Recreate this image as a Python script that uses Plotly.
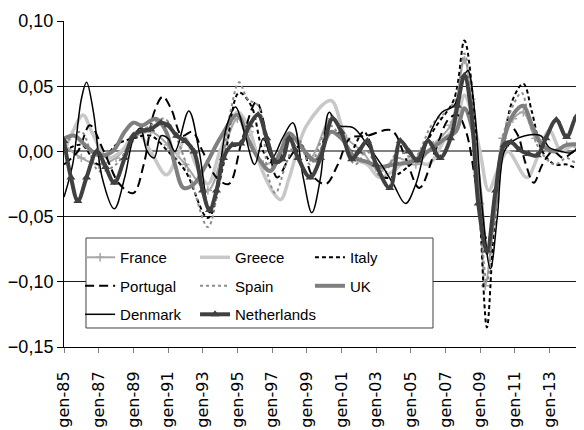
import plotly.graph_objects as go

# ---------------- data (decimal years) ----------------
france_x = [1985.0, 1986.0, 1987.0, 1988.0, 1989.0, 1990.0, 1991.0, 1992.0, 1993.3, 1994.2, 1995.0, 1995.7,
            1996.5, 1997.3, 1998.2, 1999.2, 2000.4, 2001.3, 2002.2, 2003.2, 2004.2, 2005.3, 2006.3, 2007.3,
            2008.1, 2008.5, 2009.0, 2009.3, 2009.8, 2010.3, 2010.9, 2011.5, 2012.2, 2013.0, 2014.0, 2015.0]
france_y = [0.005, -0.005, -0.01, -0.005, 0.01, 0.015, 0.005, -0.01, -0.03, 0.0, 0.025, 0.015,
            -0.01, -0.005, 0.01, -0.005, 0.025, 0.01, 0.0, -0.015, -0.005, -0.01, 0.005, 0.02,
            0.07, 0.04, -0.04, -0.103, -0.05, 0.01, 0.025, 0.03, 0.01, 0.0, 0.005, 0.0]

greece_x = [1985.0, 1985.5, 1986.1, 1986.6, 1987.5, 1988.3, 1989.2, 1990.0, 1990.9, 1991.5, 1992.0, 1992.6,
            1993.3, 1994.0, 1995.0, 1995.6, 1996.3, 1997.0, 1997.5, 1998.0, 1999.0, 2000.4, 2001.0, 2001.6,
            2002.5, 2003.2, 2004.0, 2005.0, 2006.0, 2007.0, 2007.6, 2008.1, 2008.5, 2009.0, 2009.5, 2010.0,
            2010.6, 2011.7, 2012.3, 2013.0, 2013.7, 2014.4, 2015.0]
greece_y = [0.0, 0.015, 0.028, 0.015, -0.005, 0.0, 0.015, 0.0, -0.018, -0.005, 0.01, -0.01,
            -0.025, 0.0, 0.03, 0.02, -0.01, -0.03, -0.037, -0.02, 0.02, 0.039, 0.02, -0.005,
            -0.01, -0.02, -0.015, -0.005, -0.01, 0.01, 0.02, 0.043, 0.03, 0.0, -0.03, -0.015,
            0.0, -0.02, -0.005, 0.016, 0.0, 0.005, 0.0]

italy_x = [1985.0, 1986.0, 1987.0, 1988.0, 1989.0, 1990.0, 1991.0, 1992.0, 1993.3, 1994.2, 1995.1, 1995.8,
           1996.5, 1997.2, 1998.0, 1999.2, 2000.5, 2001.5, 2002.3, 2003.5, 2005.0, 2006.5, 2007.5, 2008.1,
           2008.6, 2009.0, 2009.4, 2009.8, 2010.3, 2010.9, 2011.5, 2012.0, 2012.6, 2013.3, 2014.0, 2014.5, 2015.0]
italy_y = [0.0, 0.005, -0.01, 0.005, 0.01, 0.012, 0.0, -0.015, -0.051, -0.01, 0.045, 0.035,
           0.0, -0.01, 0.01, -0.02, 0.025, 0.0, 0.015, -0.02, -0.01, 0.02, 0.04, 0.085,
           0.04, -0.05, -0.135, -0.06, 0.0, 0.04, 0.052, 0.03, 0.0, -0.01, -0.01, -0.012, -0.005]

portugal_x = [1985.0, 1985.8, 1986.5, 1987.3, 1988.2, 1989.0, 1989.6, 1990.2, 1990.7, 1991.2, 1991.8, 1992.4,
              1993.0, 1993.8, 1994.5, 1995.3, 1996.1, 1996.7, 1997.3, 1998.0, 1998.7, 1999.3, 2000.1, 2000.8,
              2001.5, 2002.5, 2003.9, 2004.7, 2005.5, 2006.4, 2007.2, 2007.7, 2008.2, 2008.7, 2009.1, 2009.5,
              2009.9, 2010.3, 2010.7, 2011.2, 2011.6, 2012.1, 2012.6, 2013.2, 2013.8, 2014.4, 2015.0]
portugal_y = [-0.01, 0.0, 0.02, 0.0, -0.025, -0.032, -0.01, 0.03, 0.042, 0.032, 0.012, 0.015,
              0.0, -0.02, -0.025, 0.01, 0.038, 0.012, -0.02, -0.005, 0.005, -0.018, -0.025, -0.01,
              0.01, 0.012, 0.016, -0.005, -0.028, 0.0, 0.025, 0.028, 0.015, -0.02, -0.055, -0.07,
              -0.04, 0.0, 0.02, 0.012, -0.008, -0.024, -0.01, 0.0, -0.005, 0.0, 0.005]

spain_x = [1985.0, 1986.0, 1987.0, 1988.0, 1989.0, 1990.0, 1990.8, 1991.5, 1992.3, 1993.3, 1994.0, 1994.6,
           1995.1, 1995.6, 1996.2, 1996.8, 1997.2, 1997.8, 1998.5, 1999.2, 2000.3, 2001.0, 2001.8, 2002.5,
           2003.3, 2004.3, 2005.2, 2006.2, 2007.0, 2007.6, 2008.1, 2008.5, 2008.9, 2009.4, 2009.8, 2010.3,
           2010.9, 2011.4, 2011.9, 2012.5, 2013.3, 2014.0, 2014.5, 2015.0]
spain_y = [0.005, 0.015, -0.015, -0.01, 0.01, 0.02, 0.025, 0.01, -0.02, -0.058, -0.02, 0.03,
           0.053, 0.04, 0.035, -0.02, -0.032, -0.01, 0.01, -0.01, 0.02, 0.01, -0.01, 0.0,
           -0.02, 0.0, -0.005, 0.02, 0.03, 0.04, 0.075, 0.04, -0.03, -0.1, -0.05, 0.01,
           0.035, 0.045, 0.02, 0.0, -0.01, -0.005, -0.008, 0.0]

uk_x = [1985.0, 1985.6, 1986.2, 1987.0, 1987.8, 1988.5, 1989.0, 1989.5, 1990.3, 1990.9, 1991.4, 1991.9,
        1992.5, 1993.2, 1994.0, 1995.0, 1995.6, 1996.2, 1996.9, 1997.5, 1998.0, 1998.6, 1999.5, 2000.4,
        2001.0, 2001.8, 2002.5, 2003.2, 2004.0, 2005.0, 2006.0, 2007.0, 2007.6, 2008.1, 2008.5, 2009.0,
        2009.4, 2009.9, 2010.4, 2011.0, 2011.5, 2012.0, 2012.6, 2013.3, 2014.0, 2015.0]
uk_y = [0.01, 0.012, 0.005, -0.003, 0.0, 0.015, 0.022, 0.02, 0.025, 0.015, -0.01, -0.028,
        -0.025, -0.01, 0.01, 0.028, 0.01, -0.005, -0.015, 0.0, 0.014, 0.005, -0.007, 0.015,
        0.01, -0.005, -0.008, -0.012, -0.01, -0.008, 0.0, 0.01, 0.015, 0.033, 0.02, -0.03,
        -0.078, -0.04, 0.01, 0.03, 0.035, 0.02, 0.005, 0.0, 0.005, 0.005]

denmark_x = [1985.0, 1985.5, 1986.0, 1986.3, 1986.7, 1987.2, 1987.9, 1988.5, 1989.0, 1989.4, 1989.8, 1990.2,
             1990.6, 1991.0, 1991.4, 1992.2, 1992.8, 1993.4, 1993.9, 1994.4, 1994.9, 1995.4, 1996.0, 1996.5,
             1997.0, 1997.6, 1998.2, 1998.8, 1999.3, 1999.8, 2000.3, 2000.8, 2001.7, 2002.5, 2003.3, 2004.0,
             2004.7, 2005.3, 2006.0, 2006.8, 2007.5, 2008.0, 2008.3, 2008.7, 2009.1, 2009.6, 2010.0, 2010.4,
             2010.9, 2011.6, 2012.5, 2013.0, 2013.7, 2014.3, 2015.0]
denmark_y = [-0.035, -0.01, 0.04, 0.053, 0.03, -0.02, -0.044, -0.02, 0.01, 0.018, 0.0, -0.005,
             0.012, 0.01, 0.0, 0.031, 0.0, -0.047, -0.02, 0.02, 0.034, 0.015, -0.01, 0.01,
             -0.005, 0.01, 0.022, -0.02, -0.047, -0.02, 0.03, 0.02, 0.018, 0.005, -0.01, -0.025,
             -0.04, -0.025, 0.01, 0.03, 0.035, 0.055, 0.062, 0.03, -0.04, -0.09, -0.05, 0.0,
             0.008, 0.012, 0.012, 0.003, 0.0, -0.001, 0.011]

netherlands_x = [1985.0, 1985.4, 1985.8, 1986.3, 1986.9, 1987.4, 1987.9, 1988.5, 1989.0, 1989.5, 1990.0, 1990.6,
                 1991.0, 1991.5, 1992.0, 1992.5, 1993.0, 1993.4, 1993.8, 1994.2, 1994.7, 1995.2, 1995.7, 1996.2,
                 1996.7, 1997.2, 1997.6, 1998.0, 1998.5, 1999.2, 1999.8, 2000.5, 2001.0, 2001.6, 2002.0, 2002.5,
                 2003.0, 2003.8, 2004.4, 2004.9, 2005.4, 2006.0, 2006.7, 2007.3, 2007.7, 2008.1, 2008.5, 2008.9,
                 2009.4, 2009.9, 2010.4, 2010.8, 2011.3, 2011.8, 2012.3, 2012.8, 2013.4, 2014.0, 2014.6, 2015.0]
netherlands_y = [0.008, -0.02, -0.038, -0.02, 0.0, -0.012, -0.024, -0.005, 0.012, 0.016, 0.017, 0.022,
                 0.02, 0.012, 0.008, 0.0, -0.03, -0.045, -0.03, -0.005, 0.005, 0.006, 0.02, 0.028,
                 0.01, -0.008, -0.006, 0.01, -0.005, -0.02, -0.005, 0.025, 0.015, -0.006, 0.0, 0.008,
                 -0.01, -0.028, 0.008, 0.0, -0.007, 0.008, -0.005, 0.01, 0.035, 0.058, 0.03, -0.04,
                 -0.076, -0.03, 0.005, 0.007, 0.001, -0.002, -0.003, 0.01, 0.024, 0.011, 0.027, 0.02]

tick_years = [1985, 1987, 1989, 1991, 1993, 1995, 1997, 1999, 2001, 2003, 2005, 2007, 2009, 2011, 2013, 2015]
tick_labels = ["gen-85", "gen-87", "gen-89", "gen-91", "gen-93", "gen-95", "gen-97", "gen-99",
               "gen-01", "gen-03", "gen-05", "gen-07", "gen-09", "gen-11", "gen-13", "gen-15"]

# ---------------- figure ----------------
fig = go.Figure()
SM = 1.0

def add(name, x, y, color, width, dash="solid", legend="legend", marker=None):
    mode = "lines+markers" if marker else "lines"
    fig.add_trace(go.Scatter(
        x=x, y=y, name=name, mode=mode,
        line=dict(color=color, width=width, dash=dash, shape="spline", smoothing=SM),
        marker=marker, legend=legend, legendgroup=name, showlegend=True,
    ))

add("France", france_x, france_y, "#a6a6a6", 2, legend="legend",
    marker=dict(symbol="cross-thin", size=6, line=dict(color="#a6a6a6", width=1.5)))
add("Greece", greece_x, greece_y, "#c8c8c8", 3.5, legend="legend2")
add("Italy", italy_x, italy_y, "#000000", 2, dash="4px,3px", legend="legend3")
add("Portugal", portugal_x, portugal_y, "#000000", 2, dash="9px,5px", legend="legend")
add("Spain", spain_x, spain_y, "#8c8c8c", 2, dash="3px,3px", legend="legend2")
add("UK", uk_x, uk_y, "#7f7f7f", 4, legend="legend3")
add("Denmark", denmark_x, denmark_y, "#000000", 1.5, legend="legend")
add("Netherlands", netherlands_x, netherlands_y, "#404040", 4, legend="legend2",
    marker=dict(symbol="triangle-up", size=8, color="#404040"))

leg_common = dict(bgcolor="rgba(0,0,0,0)", borderwidth=0, orientation="v",
                  font=dict(family="Liberation Sans", size=15, color="#000000"),
                  xanchor="left", yanchor="top", y=0.325, tracegroupgap=6, itemwidth=30)

# page has an 8px body margin, so the figure is sized to fit the 584x430 window
fig.update_layout(
    width=576, height=422,
    margin=dict(l=56, r=0, t=13, b=83),
    paper_bgcolor="white", plot_bgcolor="white",
    separators=",.",
    legend=dict(x=0.031, **leg_common),
    legend2=dict(x=0.252, **leg_common),
    legend3=dict(x=0.473, **leg_common),
    shapes=[dict(type="rect", xref="paper", yref="paper", x0=0.0423, x1=0.7096, y0=0.0583, y1=0.3344,
                 line=dict(color="#404040", width=1), fillcolor="white", layer="above")],
    xaxis=dict(range=[1985, 2015], tickmode="array", tickvals=tick_years, ticktext=tick_labels,
               tickangle=-90, ticks="outside", ticklen=5, tickcolor="#808080", automargin=False,
               ticklabeloverflow="allow", ticklabelstandoff=12,
               showline=True, linecolor="#000000", linewidth=1, showgrid=False, zeroline=False,
               tickfont=dict(family="DejaVu Sans", size=16, color="#000000")),
    yaxis=dict(range=[-0.15, 0.10], tickmode="array", tickvals=[-0.15, -0.10, -0.05, 0.0, 0.05, 0.10],
               tickformat=".2f", ticks="outside", ticklen=6, tickcolor="#000000", automargin=False,
               showline=True, linecolor="#000000", linewidth=1,
               showgrid=True, gridcolor="#1a1a1a", gridwidth=1,
               zeroline=True, zerolinecolor="#808080", zerolinewidth=1.5,
               tickfont=dict(family="Liberation Sans", size=18, color="#000000")),
)

fig.write_html("out.html")
